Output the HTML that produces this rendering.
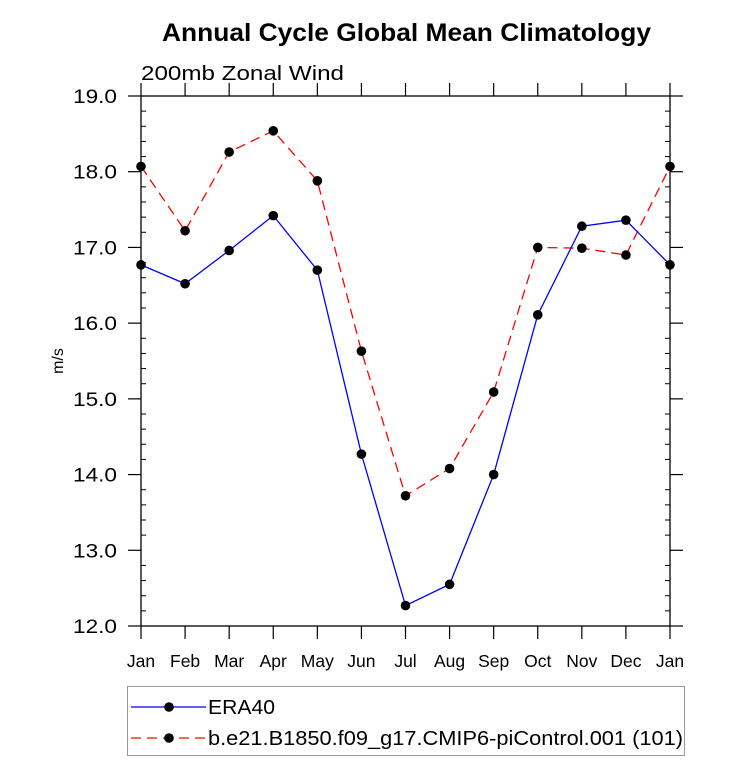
<!DOCTYPE html>
<html><head><meta charset="utf-8"><style>
body{margin:0;background:#fff;}
svg text{font-family:"Liberation Sans",sans-serif;}
</style></head><body>
<svg width="732" height="763" viewBox="0 0 732 763">
<text x="162" y="41" font-size="25" font-weight="bold" textLength="489" lengthAdjust="spacingAndGlyphs">Annual Cycle Global Mean Climatology</text>
<text x="141" y="80" font-size="20" textLength="203" lengthAdjust="spacingAndGlyphs">200mb Zonal Wind</text>
<text transform="translate(63,361) rotate(-90)" text-anchor="middle" font-size="16">m/s</text>
<g id="axes"></g>
<g id="series"></g>
<g>
<rect x="127.5" y="686.5" width="557" height="69" fill="none" stroke="#999" stroke-width="1"/>
<line x1="131" y1="707" x2="206" y2="707" stroke="#00f" stroke-width="1.2"/>
<circle cx="169" cy="707" r="4.8" fill="#000"/>
<text x="208" y="714" font-size="20" textLength="67" lengthAdjust="spacingAndGlyphs">ERA40</text>
<line x1="131" y1="738" x2="206" y2="738" stroke="#f00" stroke-width="1.2" stroke-dasharray="10,6"/>
<circle cx="169" cy="738" r="4.8" fill="#000"/>
<text x="208" y="745" font-size="20" textLength="475" lengthAdjust="spacingAndGlyphs">b.e21.B1850.f09_g17.CMIP6-piControl.001 (101)</text>
</g>
</svg>
<script>
const months=["Jan","Feb","Mar","Apr","May","Jun","Jul","Aug","Sep","Oct","Nov","Dec","Jan"];
const era40=[16.77,16.52,16.96,17.42,16.70,14.27,12.27,12.55,14.00,16.11,17.28,17.36,16.77];
const model=[18.07,17.22,18.26,18.54,17.88,15.63,13.72,14.08,15.09,17.00,16.99,16.90,18.07];
const yTicks=["12.0","13.0","14.0","15.0","16.0","17.0","18.0","19.0"];
const NS="http://www.w3.org/2000/svg";
const L=141,R=670,T=96,B=626,ymin=12,ymax=19;
const xs=i=>L+(R-L)*i/(months.length-1);
const ys=v=>B-(v-ymin)/(ymax-ymin)*(B-T);
function mk(tag,attrs,parent){const e=document.createElementNS(NS,tag);for(const k in attrs)e.setAttribute(k,attrs[k]);parent.appendChild(e);return e;}
const ax=document.getElementById('axes');
const frame=mk('rect',{x:L,y:T,width:R-L,height:B-T,fill:'none',stroke:'#000','stroke-width':1.3},ax);


months.forEach((m,i)=>{const x=xs(i);
mk('line',{x1:x,y1:B,x2:x,y2:B+13,stroke:'#000','stroke-width':1.2},ax);
mk('line',{x1:x,y1:T,x2:x,y2:T-13,stroke:'#000','stroke-width':1.2},ax);
const t=mk('text',{x:x,y:B+41,'text-anchor':'middle','font-size':17.5},ax);t.textContent=m;


});
yTicks.forEach((s,i)=>{const v=parseFloat(s),y=ys(v);
mk('line',{x1:L-13,y1:y,x2:L,y2:y,stroke:'#000','stroke-width':1.2},ax);
mk('line',{x1:R,y1:y,x2:R+13,y2:y,stroke:'#000','stroke-width':1.2},ax);
const t=mk('text',{x:L-24,y:y+7,'text-anchor':'end','font-size':19.5,textLength:44,lengthAdjust:'spacingAndGlyphs'},ax);t.textContent=s;


if(i<yTicks.length-1){for(let k=1;k<5;k++){const yy=ys(v+k*0.2);
mk('line',{x1:L,y1:yy,x2:L+5,y2:yy,stroke:'#000','stroke-width':1},ax);
mk('line',{x1:R-5,y1:yy,x2:R,y2:yy,stroke:'#000','stroke-width':1},ax);}}
});
const sg=document.getElementById('series');
function draw(data,color,dash,name){
const p=mk('polyline',{points:data.map((v,i)=>xs(i)+','+ys(v)).join(' '),fill:'none',stroke:color,'stroke-width':1.3},sg);
if(dash)p.setAttribute('stroke-dasharray',dash);


data.forEach((v,i)=>{const c=mk('circle',{cx:xs(i),cy:ys(v),r:4.8,fill:'#000'},sg);

});
}
draw(model,'#f00','10,6','model');
draw(era40,'#00f',null,'era40');
</script>
</body></html>
